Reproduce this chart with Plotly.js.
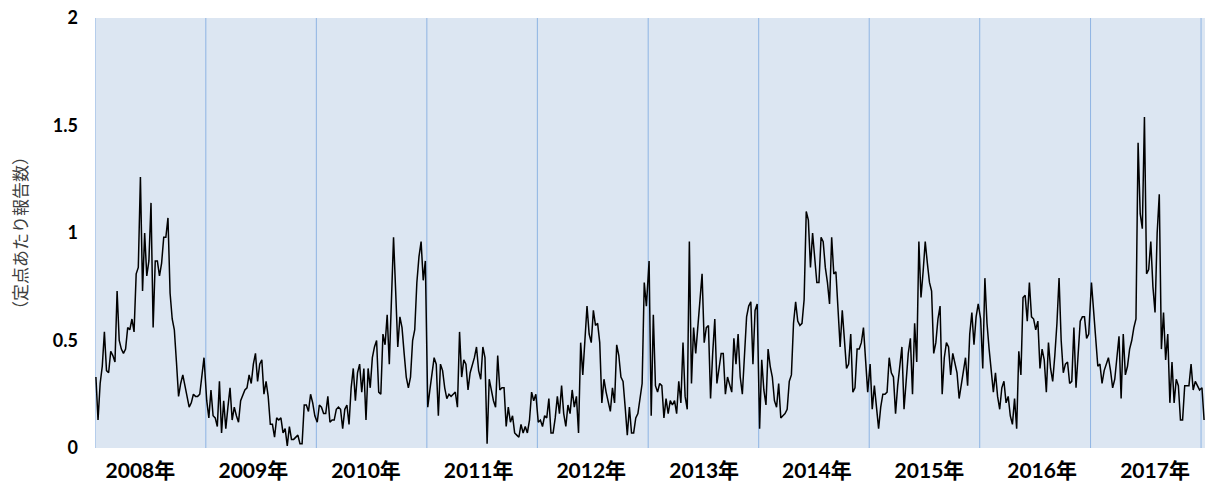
<!DOCTYPE html>
<html>
<head>
<meta charset="utf-8">
<script src="https://cdn.plot.ly/plotly-3.0.1.min.js"></script>
<style>
  html, body { margin: 0; padding: 0; background: #ffffff; }
  #chart { width: 1209px; height: 485px; }
</style>
</head>
<body>
<div id="chart"></div>
<script>
// Weekly reports per sentinel site, one array per year (week 1 ... week 52)
const y2008 = [0.33,0.13,0.30,0.38,0.54,0.36,0.35,0.45,0.43,0.40,0.73,0.50,0.46,0.44,0.46,0.56,0.55,0.60,0.54,0.81,0.84,1.26,0.73,1.00,0.80,0.87,1.14,0.56,0.87,0.87,0.80,0.86,0.98,0.98,1.07,0.72,0.60,0.55,0.40,0.24,0.30,0.34,0.29,0.23,0.19,0.21,0.25,0.24,0.24,0.25,0.35,0.42];
const y2009 = [0.22,0.14,0.27,0.15,0.14,0.10,0.31,0.07,0.22,0.09,0.19,0.28,0.13,0.19,0.15,0.12,0.22,0.25,0.27,0.28,0.34,0.30,0.39,0.44,0.31,0.39,0.41,0.25,0.31,0.24,0.11,0.11,0.05,0.14,0.13,0.14,0.07,0.09,0.01,0.10,0.04,0.04,0.05,0.06,0.02,0.02,0.20,0.20,0.17,0.25,0.21,0.15];
const y2010 = [0.12,0.20,0.19,0.16,0.16,0.24,0.12,0.13,0.13,0.18,0.19,0.18,0.09,0.18,0.20,0.11,0.28,0.37,0.22,0.35,0.39,0.26,0.37,0.13,0.37,0.28,0.42,0.47,0.50,0.26,0.25,0.53,0.48,0.62,0.39,0.65,0.98,0.73,0.47,0.61,0.56,0.44,0.33,0.28,0.33,0.50,0.55,0.77,0.89,0.96,0.78,0.87];
const y2011 = [0.19,0.27,0.36,0.42,0.39,0.15,0.39,0.36,0.28,0.23,0.25,0.24,0.25,0.26,0.19,0.54,0.33,0.41,0.39,0.27,0.35,0.38,0.42,0.47,0.36,0.32,0.47,0.42,0.02,0.32,0.26,0.22,0.19,0.43,0.27,0.28,0.28,0.10,0.19,0.12,0.15,0.07,0.06,0.05,0.11,0.07,0.10,0.07,0.13,0.26,0.22,0.25];
const y2012 = [0.12,0.13,0.10,0.15,0.14,0.23,0.07,0.07,0.14,0.24,0.16,0.29,0.16,0.10,0.20,0.16,0.27,0.19,0.24,0.07,0.49,0.34,0.50,0.66,0.53,0.49,0.64,0.57,0.58,0.49,0.21,0.32,0.26,0.22,0.17,0.28,0.21,0.48,0.43,0.33,0.31,0.19,0.06,0.19,0.07,0.07,0.14,0.16,0.24,0.30,0.77,0.66];
const y2013 = [0.87,0.15,0.62,0.29,0.26,0.30,0.29,0.14,0.23,0.16,0.22,0.20,0.22,0.16,0.31,0.21,0.49,0.24,0.18,0.96,0.30,0.56,0.44,0.56,0.68,0.81,0.49,0.56,0.57,0.23,0.44,0.60,0.30,0.36,0.44,0.44,0.25,0.33,0.29,0.26,0.51,0.39,0.53,0.33,0.25,0.44,0.61,0.66,0.68,0.39,0.64,0.67];
const y2014 = [0.09,0.41,0.27,0.20,0.46,0.38,0.33,0.22,0.19,0.30,0.14,0.15,0.16,0.18,0.31,0.34,0.58,0.68,0.59,0.57,0.58,0.69,1.10,1.06,0.84,1.00,0.89,0.77,0.77,0.98,0.96,0.84,0.77,0.67,0.98,0.81,0.82,0.64,0.47,0.64,0.50,0.37,0.39,0.53,0.26,0.28,0.46,0.46,0.49,0.56,0.41,0.26];
const y2015 = [0.39,0.18,0.29,0.19,0.09,0.19,0.25,0.25,0.26,0.42,0.35,0.33,0.16,0.29,0.39,0.47,0.18,0.33,0.44,0.51,0.25,0.58,0.40,0.96,0.70,0.82,0.96,0.86,0.77,0.73,0.44,0.49,0.60,0.66,0.25,0.42,0.49,0.47,0.34,0.44,0.39,0.35,0.23,0.30,0.36,0.42,0.29,0.53,0.63,0.48,0.61,0.67];
const y2016 = [0.60,0.37,0.79,0.58,0.46,0.36,0.26,0.35,0.24,0.18,0.28,0.31,0.21,0.24,0.15,0.11,0.23,0.09,0.45,0.34,0.70,0.71,0.59,0.77,0.61,0.60,0.55,0.59,0.37,0.46,0.41,0.26,0.49,0.37,0.31,0.43,0.58,0.79,0.50,0.35,0.39,0.40,0.30,0.31,0.56,0.28,0.42,0.59,0.61,0.61,0.51,0.53];
const y2017 = [0.77,0.63,0.49,0.38,0.39,0.30,0.36,0.39,0.42,0.36,0.28,0.32,0.42,0.52,0.23,0.53,0.34,0.38,0.46,0.50,0.56,0.60,1.42,1.09,1.02,1.54,0.81,0.83,0.96,0.75,0.63,1.00,1.18,0.46,0.63,0.41,0.53,0.21,0.40,0.21,0.32,0.29,0.13,0.13,0.29,0.29,0.29,0.39,0.27,0.31,0.29,0.27];
const y2018 = [0.28,0.13];

const years = [2008,2009,2010,2011,2012,2013,2014,2015,2016,2017,2018];
const series = [y2008,y2009,y2010,y2011,y2012,y2013,y2014,y2015,y2016,y2017,y2018];

// Category-axis tick labels (one label every 53 weekly points, as in the original chart)
const tickLabels = ['2008年','2009年','2010年','2011年','2012年','2013年','2014年','2015年','2016年','2017年'];
const yTitle = '（定点あたり報告数）';

const xs = [], ys = [];
years.forEach(function (yr, k) {
  series[k].forEach(function (v, i) {
    const d = new Date(Date.UTC(yr, 0, 1) + (7 * i + 3) * 86400000);
    xs.push(d.toISOString().slice(0, 10));
    ys.push(v);
  });
});

const labelStep = 53, labelStart = 21;
const tickVals = tickLabels.map(function (_, k) { return xs[labelStart + labelStep * k]; });

// vertical year separators
const shapes = years.map(function (yr) {
  return {
    type: 'line', xref: 'x', yref: 'paper', layer: 'below',
    x0: yr + '-01-01', x1: yr + '-01-01', y0: 0, y1: 1,
    line: { color: '#8EB4E3', width: 1 }
  };
});

const trace = {
  x: xs, y: ys, type: 'scatter', mode: 'lines',
  line: { color: '#000000', width: 1.5 },
  hoverinfo: 'x+y', showlegend: false
};

const layout = {
  width: 1209, height: 485,
  margin: { l: 95, r: 4, t: 18, b: 37 },
  paper_bgcolor: '#ffffff',
  plot_bgcolor: '#DCE6F2',
  font: { family: 'Lato, "Noto Sans CJK JP", sans-serif', color: '#000000' },
  shapes: shapes,
  xaxis: {
    type: 'date',
    range: ['2008-01-01', '2018-01-14'],
    tickmode: 'array', tickvals: tickVals, ticktext: tickLabels,
    ticklabelstandoff: 8,
    showgrid: false,
    zeroline: false, showline: false, ticks: '',
    tickfont: { size: 21, weight: 'bold', family: 'Lato, "Noto Sans CJK JP", sans-serif', color: '#000000' },
    fixedrange: true
  },
  yaxis: {
    range: [0, 2], tick0: 0, dtick: 0.5,
    showgrid: false, zeroline: false, showline: false, ticks: '',
    ticklabelstandoff: 16,
    tickfont: { size: 18, weight: 'bold', family: 'Lato, sans-serif', color: '#000000' },
    title: { text: yTitle, standoff: 20, font: { size: 17, family: '"Noto Sans CJK JP", sans-serif', color: '#404040' } },
    fixedrange: true
  }
};

Plotly.newPlot('chart', [trace], layout, { displayModeBar: false, staticPlot: true });
</script>
</body>
</html>
